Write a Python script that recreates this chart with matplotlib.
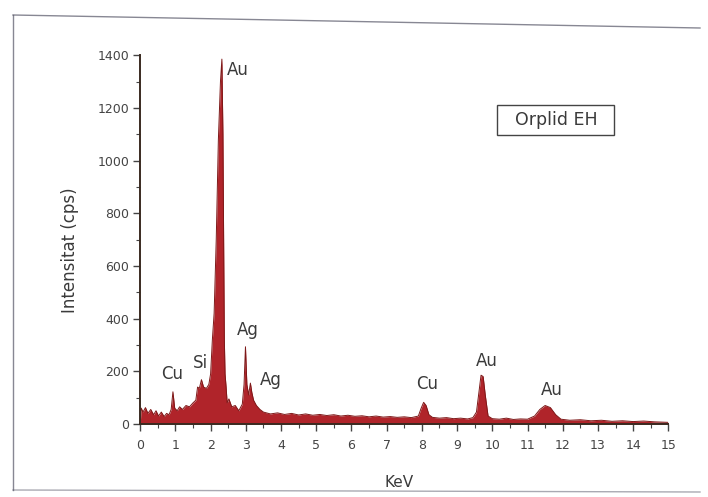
import numpy as np
import matplotlib
matplotlib.use("Agg")
import matplotlib.pyplot as plt
from matplotlib.lines import Line2D
from matplotlib.patches import Rectangle
from matplotlib.ticker import MultipleLocator

# spectrum outline (keV, counts)
energy = [0.00, 0.03, 0.08, 0.15, 0.22, 0.30, 0.38, 0.45, 0.52, 0.60, 0.68, 0.75,
          0.82, 0.88, 0.93, 0.98, 1.05, 1.12, 1.20, 1.30, 1.40, 1.50, 1.58, 1.63,
          1.68, 1.74, 1.80, 1.88, 1.95, 2.00, 2.05, 2.10, 2.16, 2.22, 2.28, 2.32,
          2.35, 2.37, 2.39, 2.41, 2.44, 2.47, 2.52, 2.60, 2.70, 2.80, 2.90, 2.95,
          2.99, 3.03, 3.08, 3.13, 3.17, 3.22, 3.30, 3.40, 3.50, 3.70, 3.90, 4.10,
          4.30, 4.50, 4.70, 4.90, 5.10, 5.30, 5.50, 5.70, 5.90, 6.10, 6.30, 6.50,
          6.70, 6.90, 7.10, 7.30, 7.50, 7.70, 7.90, 7.98, 8.05, 8.12, 8.20, 8.30,
          8.50, 8.70, 8.90, 9.10, 9.30, 9.45, 9.55, 9.62, 9.68, 9.74, 9.80, 9.88,
          10.0, 10.2, 10.4, 10.6, 10.8, 11.0, 11.2, 11.35, 11.5, 11.65, 11.8, 11.95,
          12.2, 12.5, 12.8, 13.1, 13.4, 13.7, 14.0, 14.3, 14.6, 15.0]
counts = [0, 60, 45, 62, 40, 55, 35, 50, 30, 45, 28, 40,
          35, 55, 122, 60, 50, 65, 55, 70, 65, 80, 90, 140,
          135, 168, 140, 135, 150, 190, 320, 420, 700, 1077, 1300, 1385,
          1100, 700, 320, 190, 140, 80, 95, 65, 70, 50, 75, 150,
          293, 150, 110, 155, 120, 90, 70, 55, 45, 38, 42, 36,
          40, 34, 38, 33, 36, 32, 35, 30, 33, 29, 31, 27,
          30, 26, 28, 25, 27, 24, 30, 60, 82, 70, 35, 25,
          22, 24, 20, 22, 19, 24, 45, 120, 185, 180, 110, 30,
          20, 18, 22, 17, 19, 18, 30, 55, 70, 62, 35, 18,
          14, 16, 12, 14, 10, 12, 9, 11, 8, 6]

peak_labels = ["Au", "Cu", "Si", "Ag", "Ag", "Cu", "Au", "Au"]
label_x = [2.45, 0.92, 1.72, 3.05, 3.70, 8.15, 9.85, 11.7]
label_y = [1345, 190, 232, 357, 167, 150, 240, 130]
label_ha = ["left", "center", "center", "center", "center", "center", "center", "center"]

fill_color = "#b0242a"
edge_color = "#7d1818"
text_color = "#3a3a3a"

fig = plt.figure(figsize=(7.08, 4.97), dpi=100)
ax = fig.add_axes([0.198, 0.147, 0.746, 0.742])

ax.fill_between(energy, counts, 0, color=fill_color, lw=0)
ax.plot(energy, counts, color=edge_color, lw=0.7)

ax.set_xlim(0, 15)
ax.set_ylim(0, 1400)
ax.xaxis.set_major_locator(MultipleLocator(1))
ax.xaxis.set_minor_locator(MultipleLocator(0.5))
ax.yaxis.set_major_locator(MultipleLocator(200))
ax.yaxis.set_minor_locator(MultipleLocator(100))
ax.tick_params(which="major", direction="out", length=5, width=1.0,
               labelsize=9, colors="#444444")
ax.tick_params(which="minor", direction="out", length=3, width=0.8, colors="#444444")
ax.tick_params(axis="x", pad=6)
ax.tick_params(axis="y", pad=3)

for s in ["top", "right"]:
    ax.spines[s].set_visible(False)
ax.spines["left"].set_color("#3a2a20")
ax.spines["bottom"].set_color("#3a2a20")
ax.spines["left"].set_linewidth(1.4)
ax.spines["bottom"].set_linewidth(1.4)

ax.set_xlabel("KeV", fontsize=11, color=text_color)
ax.set_ylabel("Intensitat (cps)", fontsize=12, color=text_color)
ax.xaxis.set_label_coords(0.49, -0.138)
ax.yaxis.set_label_coords(-0.115, 0.47)

for t, x, y, ha in zip(peak_labels, label_x, label_y, label_ha):
    ax.text(x, y, t, ha=ha, va="center", fontsize=12, color=text_color)

ax.add_patch(Rectangle((0.676, 0.783), 0.222, 0.081, transform=ax.transAxes,
                       fc="white", ec="#444444", lw=1.0))
ax.text(0.787, 0.823, "Orplid EH", transform=ax.transAxes, ha="center", va="center",
        fontsize=12.5, color=text_color)

# scanned page frame
fig.add_artist(Line2D([13 / 708, 700 / 708], [1 - 15 / 497, 1 - 28 / 497],
                      color="#555566", lw=1.0, alpha=0.7))
fig.add_artist(Line2D([13 / 708, 13 / 708], [1 - 15 / 497, 1 - 490 / 497],
                      color="#555566", lw=1.0, alpha=0.7))
fig.add_artist(Line2D([13 / 708, 700 / 708], [1 - 490 / 497, 1 - 492 / 497],
                      color="#555566", lw=1.0, alpha=0.5))

fig.savefig("out.png", dpi=100)
